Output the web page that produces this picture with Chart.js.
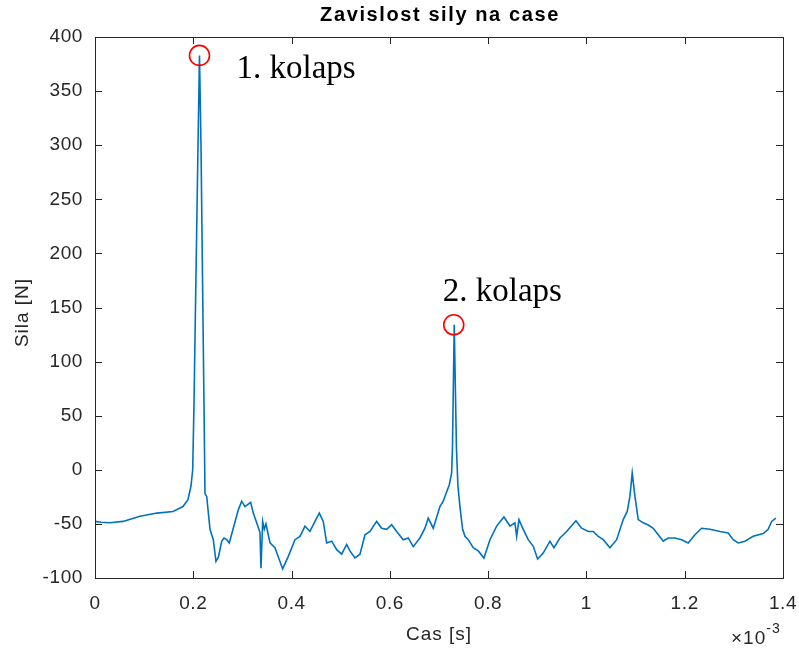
<!DOCTYPE html>
<html><head><meta charset="utf-8">
<script src="https://cdn.jsdelivr.net/npm/chart.js@4/dist/chart.umd.min.js"></script>
<style>html,body{margin:0;padding:0;background:#fff;} #wrap{width:799px;height:648px;position:relative;}</style>
</head><body><div id="wrap"><canvas id="c" width="799" height="648"></canvas></div>
<script>
// time in units of 1e-3 s
const timeValues = [0,0.0122,0.0305,0.0570,0.0916,0.1262,0.1587,0.1790,0.1892,0.1953,0.1988,0.2014,0.2055,0.2096,0.2126,0.2157,0.2187,0.2218,0.2238,0.2273,0.2340,0.2407,0.2462,0.2509,0.2578,0.2625,0.2680,0.2732,0.2814,0.2916,0.2985,0.3052,0.3168,0.3221,0.3290,0.3357,0.3377,0.3412,0.3445,0.3479,0.3526,0.3561,0.3662,0.3819,0.3933,0.4069,0.4171,0.4273,0.4374,0.4476,0.4564,0.4645,0.4714,0.4816,0.4918,0.5019,0.5121,0.5188,0.5290,0.5392,0.5494,0.5595,0.5731,0.5833,0.5935,0.6037,0.6138,0.6273,0.6374,0.6476,0.6612,0.6714,0.6781,0.6883,0.7019,0.7086,0.7208,0.7257,0.7274,0.7310,0.7355,0.7385,0.7426,0.7481,0.7528,0.7595,0.7697,0.7799,0.7914,0.8037,0.8173,0.8321,0.8444,0.8545,0.8580,0.8627,0.8714,0.8816,0.8918,0.9007,0.9121,0.9257,0.9339,0.9461,0.9597,0.9786,0.9902,1.0037,1.0138,1.0240,1.0342,1.0478,1.0615,1.0749,1.0830,1.0885,1.0932,1.0987,1.1054,1.1155,1.1257,1.1359,1.1461,1.1563,1.1664,1.1801,1.1937,1.2071,1.2208,1.2344,1.2513,1.2716,1.2885,1.2987,1.3088,1.3225,1.3393,1.3597,1.3699,1.3768,1.3855];
const forceValues = [-47.7,-48.5,-49,-47.7,-43,-40,-38.5,-34,-27.7,-15,0,60,180,300,383,300,180,60,-22,-24.6,-55,-64.6,-84.6,-81,-66,-63,-64.6,-67.6,-54,-37,-29,-34,-30,-40,-49,-58,-91,-47.7,-55,-50,-60,-67.6,-72,-91.6,-80,-64.6,-61.5,-52,-57,-47.7,-40,-47.7,-67.6,-66,-73.8,-78,-69,-75,-81.5,-78,-60,-57,-47.7,-54,-55,-50.7,-57,-64.6,-63,-71,-63,-54,-44.6,-54,-34,-29,-14,-3,20,134,20,-15,-34,-55,-61.5,-64.6,-72,-75,-81.5,-64.6,-52,-43.6,-52,-49,-61.5,-46,-55,-64.6,-70.7,-82.4,-77,-66,-72,-63,-57,-47,-54,-57,-57,-61.5,-64.6,-72,-64.6,-46,-38.5,-24.6,-3,-24.6,-46,-49,-51,-54,-60,-66,-63,-63,-64.6,-67.6,-60,-54,-55,-57,-58.4,-64.6,-67.6,-66,-61.5,-59,-55,-47.7,-44.6];
const peakTimes = [0.2126, 0.7300];
const peakForces = [383, 134];
const peakLabels = ['1. kolaps', '2. kolaps'];
const xTickValues = [0, 0.2, 0.4, 0.6, 0.8, 1, 1.2, 1.4];
const xTickLabels = ['0', '0.2', '0.4', '0.6', '0.8', '1', '1.2', '1.4'];
const yTickValues = [-100, -50, 0, 50, 100, 150, 200, 250, 300, 350, 400];
const yTickLabels = ['-100', '-50', '0', '50', '100', '150', '200', '250', '300', '350', '400'];
const chartTitle = 'Zavislost sily na case';
const xTitle = 'Cas [s]';
const yTitle = 'Sila [N]';
const xExponent = '-3';

const AX = '#262626';
const tickFont = {family: 'Liberation Sans, Arial, sans-serif', size: 19};

const spacing = {
  id: 'spacing',
  beforeDraw(chart) { chart.ctx.letterSpacing = '0.6px'; }
};

const decor = {
  id: 'decor',
  afterDraw(chart) {
    const ctx = chart.ctx, a = chart.chartArea;
    const xs = chart.scales.x, ys = chart.scales.y;
    ctx.save();
    ctx.strokeStyle = AX; ctx.lineWidth = 1;
    ctx.strokeRect(Math.round(a.left) + 0.5, Math.round(a.top) + 0.5, Math.round(a.right - a.left), Math.round(a.bottom - a.top));
    const tl = 7;
    ctx.beginPath();
    xTickValues.forEach(v => {
      const p = Math.round(xs.getPixelForValue(v)) + 0.5;
      ctx.moveTo(p, a.bottom); ctx.lineTo(p, a.bottom - tl);
      ctx.moveTo(p, a.top); ctx.lineTo(p, a.top + tl);
    });
    yTickValues.forEach(v => {
      const p = Math.round(ys.getPixelForValue(v)) + 0.5;
      ctx.moveTo(a.left, p); ctx.lineTo(a.left + tl, p);
      ctx.moveTo(a.right, p); ctx.lineTo(a.right - tl, p);
    });
    ctx.stroke();
    // title
    ctx.fillStyle = '#000';
    ctx.letterSpacing = '1.6px';
    ctx.font = 'bold 20px "Liberation Sans", Arial, sans-serif';
    ctx.textAlign = 'center'; ctx.textBaseline = 'alphabetic';
    ctx.fillText(chartTitle, (a.left + a.right) / 2 + 1, 21);
    // axis titles
    ctx.fillStyle = AX;
    ctx.letterSpacing = '1px';
    ctx.font = '19px "Liberation Sans", Arial, sans-serif';
    ctx.fillText(xTitle, (a.left + a.right) / 2, 640);
    ctx.save();
    ctx.translate(28, (a.top + a.bottom) / 2 + 5);
    ctx.rotate(-Math.PI / 2);
    ctx.fillText(yTitle, 0, 0);
    ctx.restore();
    // exponent
    ctx.textAlign = 'left';
    ctx.font = '19px "Liberation Sans", Arial, sans-serif';
    ctx.fillText('\u00d710', 731, 644);
    const w = ctx.measureText('\u00d710').width;
    ctx.font = '14px "Liberation Sans", Arial, sans-serif';
    ctx.fillText(xExponent, 731 + w, 633);
    // annotations
    ctx.letterSpacing = '0px';
    ctx.fillStyle = '#000';
    ctx.font = '33px "Liberation Serif", "Times New Roman", serif';
    const offs = [[37, 23], [-11, -24]];
    peakLabels.forEach((t, i) => {
      const px = xs.getPixelForValue(peakTimes[i]);
      const py = ys.getPixelForValue(peakForces[i]);
      ctx.fillText(t, px + offs[i][0], py + offs[i][1]);
    });
    ctx.restore();
  }
};

new Chart(document.getElementById('c'), {
  type: 'scatter',
  data: {
    datasets: [
      {
        data: timeValues.map((t, i) => ({x: t, y: forceValues[i]})),
        showLine: true, borderColor: '#0072BD', borderWidth: 1.6,
        pointRadius: 0, tension: 0, fill: false, order: 2
      },
      {
        data: peakTimes.map((t, i) => ({x: t, y: peakForces[i]})),
        showLine: false, pointRadius: 10, pointStyle: 'circle',
        borderColor: '#FF0000', backgroundColor: 'rgba(0,0,0,0)', pointBorderWidth: 1.6, order: 1
      }
    ]
  },
  options: {
    responsive: false, animation: false, devicePixelRatio: 1,
    layout: {padding: {left: 0, right: 16, top: 37, bottom: 0}},
    plugins: {legend: {display: false}, tooltip: {enabled: false}, title: {display: false}},
    scales: {
      x: {
        type: 'linear', min: 0, max: 1.4,
        grid: {display: false, drawTicks: false}, border: {display: false},
        afterBuildTicks: s => { s.ticks = xTickValues.map(v => ({value: v})); },
        afterFit: s => { s.height = 70; s.paddingLeft = 0; s.paddingRight = 0; },
        ticks: {color: AX, font: tickFont, padding: 14, maxRotation: 0,
          callback: (v) => xTickLabels[xTickValues.indexOf(v)]}
      },
      y: {
        type: 'linear', min: -100, max: 400,
        grid: {display: false, drawTicks: false}, border: {display: false},
        afterBuildTicks: s => { s.ticks = yTickValues.map(v => ({value: v})); },
        afterFit: s => { s.width = 95; s.paddingTop = 0; s.paddingBottom = 0; },
        ticks: {color: AX, font: tickFont, padding: 12,
          callback: (v) => yTickLabels[yTickValues.indexOf(v)]}
      }
    }
  },
  plugins: [spacing, decor]
});
</script></body></html>
